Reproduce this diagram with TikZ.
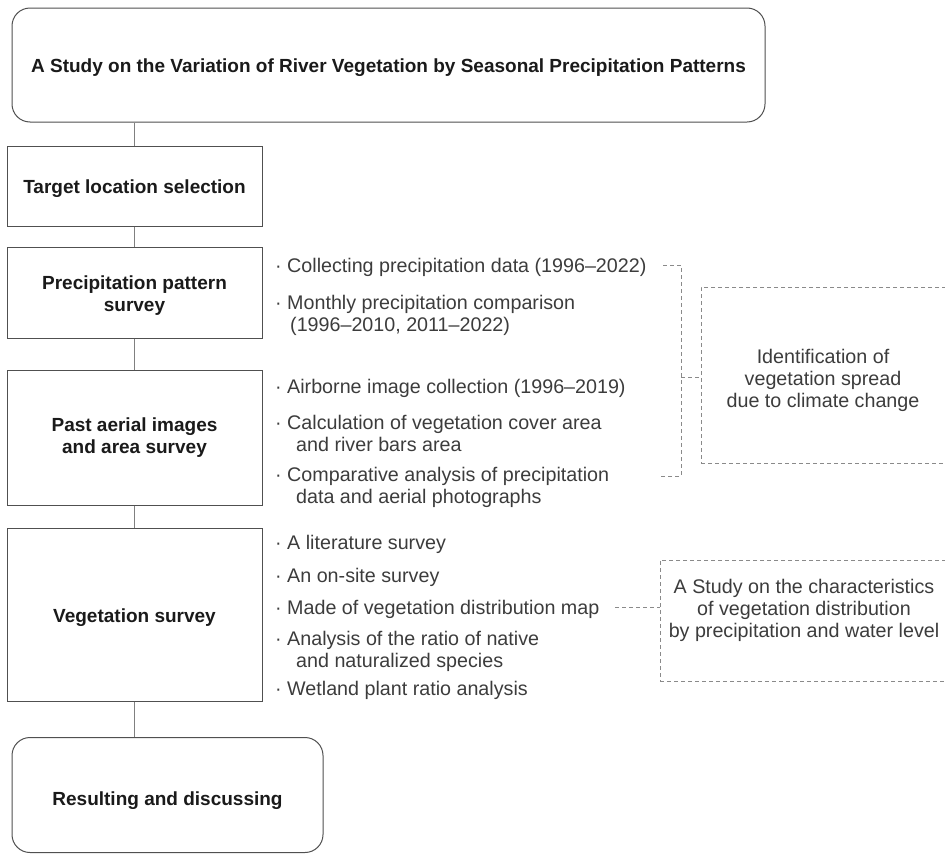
\documentclass[tikz,border=0pt]{standalone}
\usepackage{fontspec}
\setmainfont{Liberation Sans}
\definecolor{boxline}{HTML}{505050}
\definecolor{conline}{HTML}{808080}
\definecolor{dashline}{HTML}{8A8A8A}
\definecolor{headtext}{HTML}{1A1A1A}
\definecolor{bodytext}{HTML}{3C3C3C}
\begin{document}
\begin{tikzpicture}[x=1pt,y=-1pt,
  stepbox/.style={draw=boxline,line width=1pt,fill=white,inner sep=0pt},
  roundbox/.style={stepbox,rounded corners=18pt},
  boxtext/.style={inner sep=0pt,align=center,text=headtext,
    font=\fontsize{19}{22}\selectfont\bfseries},
  itemtext/.style={anchor=mid west,inner sep=0pt,text=bodytext,
    font=\fontsize{19.7}{22}\selectfont},
  notebox/.style={draw=dashline,dash pattern=on 4pt off 3pt,line width=0.9pt,
    inner sep=0pt},
  notetext/.style={inner sep=0pt,align=center,text=bodytext,
    font=\fontsize{19.7}{22}\selectfont},
  conn/.style={draw=conline,line width=0.9pt},
  dconn/.style={draw=dashline,dash pattern=on 4pt off 3pt,line width=0.9pt}]
\useasboundingbox (0,0) rectangle (945,854);

% main column
\node[roundbox,minimum width=753pt,minimum height=114pt,
  label={[boxtext,yshift=-3pt]center:A Study on the Variation of River Vegetation by Seasonal Precipitation Patterns}]
  (top) at (388.5,65) {};
\node[stepbox,minimum width=255pt,minimum height=80pt,
  label={[boxtext,yshift=-3pt]center:Target location selection}]
  (target) at (134.5,186) {};
\node[stepbox,minimum width=255pt,minimum height=91pt,
  label={[boxtext,yshift=-3pt]center:Precipitation pattern\\survey}]
  (precip) at (134.5,292.5) {};
\node[stepbox,minimum width=255pt,minimum height=135pt,
  label={[boxtext,yshift=0pt]center:Past aerial images\\and area survey}]
  (aerial) at (134.5,437.5) {};
\node[stepbox,minimum width=255pt,minimum height=173pt,
  label={[boxtext,yshift=-3pt]center:Vegetation survey}]
  (veg) at (134.5,614.5) {};
\node[roundbox,minimum width=311pt,minimum height=115pt,
  label={[boxtext,yshift=-6pt]center:Resulting and discussing}]
  (result) at (167.5,795) {};

\draw[conn] (target.north) -- (target.north |- top.south);
\draw[conn] (target.south) -- (precip.north);
\draw[conn] (precip.south) -- (aerial.north);
\draw[conn] (aerial.south) -- (veg.north);
\draw[conn] (veg.south) -- (veg.south |- result.north);

% items
\node[itemtext] (p1) at (275,270) {· Collecting precipitation data (1996–2022)};
\node[itemtext] (p2) at (275,307) {· Monthly precipitation comparison};
\node[itemtext] (p2b) at (290,329) {(1996–2010, 2011–2022)};
\node[itemtext] (a1) at (275,391) {· Airborne image collection (1996–2019)};
\node[itemtext] (a2) at (275,427) {· Calculation of vegetation cover area};
\node[itemtext] (a2b) at (296,449) {and river bars area};
\node[itemtext] (a3) at (275,479) {· Comparative analysis of precipitation};
\node[itemtext] (a3b) at (296,501) {data and aerial photographs};
\node[itemtext] (v1) at (275,547) {· A literature survey};
\node[itemtext] (v2) at (275,580) {· An on-site survey};
\node[itemtext] (v3) at (275,612) {· Made of vegetation distribution map};
\node[itemtext] (v4) at (275,643) {· Analysis of the ratio of native};
\node[itemtext] (v4b) at (296,665) {and naturalized species};
\node[itemtext] (v5) at (275,693) {· Wetland plant ratio analysis};

% note boxes
\node[notebox,minimum width=248pt,minimum height=176pt] (idbox) at (825,375) {};
\node[notetext] (idtext) at (823,380)
  {Identification of\\vegetation spread\\due to climate change};
\node[notebox,minimum width=289pt,minimum height=121pt] (stbox) at (804.5,620.5) {};
\node[notetext] (sttext) at (804,610)
  {A Study on the characteristics\\of vegetation distribution\\by precipitation and water level};

% dashed bracket
\coordinate (brs) at (663,265);
\coordinate (brt) at (681,265);
\coordinate (brb) at (681,476);
\coordinate (bre) at (659,476);
\coordinate (brm) at (681,377);
\draw[dconn] (brs) -- (brt) -- (brb) -- (bre);
\draw[dconn] (brm) -- (brm -| idbox.west);
\coordinate (vs) at (615,607);
\draw[dconn] (vs) -- (vs -| stbox.west);
\end{tikzpicture}
\end{document}
